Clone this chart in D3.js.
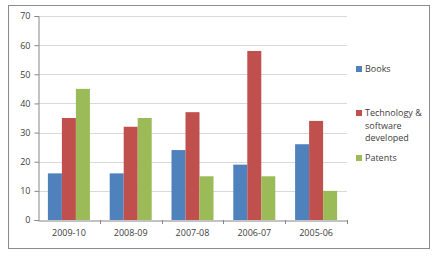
<!DOCTYPE html>
<html>
<head>
<meta charset="utf-8">
<script src="https://cdn.jsdelivr.net/npm/d3@7"></script>
<style>
	body { margin: 0; background: #fff; }
	text { font-family: "Open Sans", "Liberation Sans", sans-serif; fill: #404040; }
</style>
</head>
<body>
<svg id="chart" width="437" height="258"></svg>
<script>
const categories = ["2009-10", "2008-09", "2007-08", "2006-07", "2005-06"];
const seriesNames = ["Books", "Technology & software developed", "Patents"];
const books = [16, 16, 24, 19, 26];
const technology = [35, 32, 37, 58, 34];
const patents = [45, 35, 15, 15, 10];
const yTicks = [0, 10, 20, 30, 40, 50, 60, 70];

const colors = ["#4f81bd", "#c0504d", "#9bbb59"];
const series = [books, technology, patents];

const svg = d3.select("#chart");

// outer frame
svg.append("rect")
	.attr("x", 8.5).attr("y", 5.5)
	.attr("width", 421).attr("height", 243)
	.attr("fill", "#fff").attr("stroke", "#8c8c8c");

const plot = { left: 38, right: 347, top: 16, bottom: 220 };

const x = d3.scaleBand().domain(categories).range([plot.left, plot.right]);
const y = d3.scaleLinear().domain([0, 70]).range([plot.bottom, plot.top]);

// gridlines
svg.append("g")
	.selectAll("line")
	.data(yTicks.filter(d => d > 0))
	.join("line")
	.attr("x1", plot.left).attr("x2", plot.right)
	.attr("y1", d => Math.round(y(d)) + 0.5).attr("y2", d => Math.round(y(d)) + 0.5)
	.attr("stroke", "#d9d9d9");

// bars
const barW = 14;
const groups = svg.append("g")
	.selectAll("g")
	.data(series)
	.join("g")
	.attr("fill", (d, i) => colors[i]);
groups.each(function (vals, si) {
	d3.select(this).selectAll("rect")
		.data(vals)
		.join("rect")
		.attr("x", (d, i) => x(categories[i]) + x.bandwidth() / 2 - 1.5 * barW + si * barW)
		.attr("width", barW)
		.attr("y", d => y(d))
		.attr("height", d => y(0) - y(d));
});

// y axis
const yAxis = svg.append("g")
	.attr("transform", `translate(${plot.left + 0.5},0)`)
	.call(d3.axisLeft(y).tickValues(yTicks).tickSize(4).tickPadding(4));
yAxis.select(".domain").attr("stroke", "#868686");
yAxis.selectAll(".tick line").attr("stroke", "#868686");
yAxis.selectAll("text").style("font-size", "9px").attr("fill", "#404040");

// x axis
const xAxis = svg.append("g")
	.attr("transform", `translate(0,${plot.bottom + 0.5})`)
	.call(d3.axisBottom(x).tickSize(0).tickPadding(9));
xAxis.select(".domain").attr("stroke", "#868686");
xAxis.selectAll("text").style("font-size", "9px").attr("fill", "#404040");
svg.append("g")
	.selectAll("line")
	.data(categories.slice(1).concat(["end"]))
	.join("line")
	.attr("x1", (d, i) => Math.round(plot.left + x.step() * (i + 1)) + 0.5)
	.attr("x2", (d, i) => Math.round(plot.left + x.step() * (i + 1)) + 0.5)
	.attr("y1", plot.bottom).attr("y2", plot.bottom + 4)
	.attr("stroke", "#868686");

// legend
const legendItems = [
	{ lines: ["Books"], y: 69 },
	{ lines: ["Technology &", "software", "developed"], y: 113 },
	{ lines: ["Patents"], y: 158 }
];
const legend = svg.append("g");
legendItems.forEach((item, i) => {
	legend.append("rect")
		.attr("x", 356).attr("y", item.y - 3)
		.attr("width", 6).attr("height", 6)
		.attr("fill", colors[i]);
	const t = legend.append("text")
		.attr("x", 365).attr("y", item.y + 3)
		.style("font-size", "9px");
	item.lines.forEach((ln, j) => {
		t.append("tspan")
			.attr("x", 365)
			.attr("dy", j === 0 ? 0 : 12.5)
			.text(ln);
	});
});
</script>
</body>
</html>
